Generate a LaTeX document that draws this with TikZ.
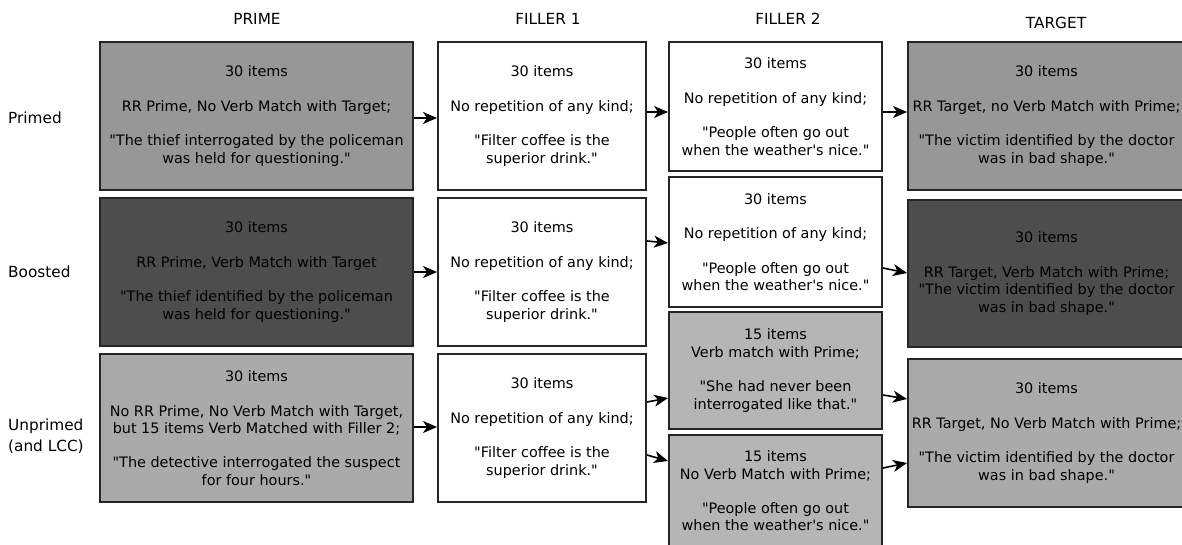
\documentclass[tikz,border=0pt]{standalone}
\usepackage{fontspec}
\newfontfamily\boxfont{DejaVu Sans}
\usetikzlibrary{arrows.meta}

\definecolor{midgray}{HTML}{979797}
\definecolor{darkgray}{HTML}{4D4D4D}
\definecolor{lightgray}{HTML}{AAAAAA}
\definecolor{palegray}{HTML}{B5B5B5}

\begin{document}
\begin{tikzpicture}[x=1pt, y=-1pt, >={Stealth[length=14pt,width=12pt,inset=4pt]},
    cellbox/.style={draw=black!85, line width=2pt, align=center, inner sep=0pt,
        font=\boxfont\fontsize{14.4}{17.3}\selectfont},
    head/.style={font=\boxfont\fontsize{15.3}{18}\selectfont},
    rowlabel/.style={font=\boxfont\fontsize{15.3}{21}\selectfont, anchor=west, align=left, inner sep=0pt},
    flow/.style={->, line width=1.6pt}]
    \useasboundingbox (0,0) rectangle (1182,544);

    % 列标题
    \node[head] (hprime) at (257,19) {PRIME};
    \node[head] (hfilla) at (548,19) {FILLER 1};
    \node[head] (hfillb) at (788,19) {FILLER 2};
    \node[head] (htarget) at (1056,23) {TARGET};

    % 行标题
    \node[rowlabel] (lprimed) at (8,118) {Primed};
    \node[rowlabel] (lboosted) at (8,272) {Boosted};
    \node[rowlabel] (lunprimed) at (8,436) {Unprimed\\(and LCC)};

    % PRIME 列
    \node[cellbox, fill=midgray, minimum width=313pt, minimum height=148pt] (p1) at (256.5,116)
        {30 items\\[17.3pt]RR Prime, No Verb Match with Target;\\[17.3pt]"The thief interrogated by the policeman\\was held for questioning."};
    \node[cellbox, fill=darkgray, minimum width=313pt, minimum height=148pt] (p2) at (256.5,272)
        {30 items\\[17.3pt]RR Prime, Verb Match with Target\\[17.3pt]"The thief identified by the policeman\\was held for questioning."};
    \node[cellbox, fill=lightgray, minimum width=313pt, minimum height=148pt] (p3) at (256.5,428)
        {30 items\\[17.3pt]No RR Prime, No Verb Match with Target,\\but 15 items Verb Matched with Filler 2;\\[17.3pt]"The detective interrogated the suspect\\for four hours."};

    % FILLER 1 列
    \node[cellbox, fill=white, minimum width=208pt, minimum height=148pt] (f1a) at (542,116)
        {30 items\\[17.3pt]No repetition of any kind;\\[17.3pt]"Filter coffee is the\\superior drink."};
    \node[cellbox, fill=white, minimum width=208pt, minimum height=148pt] (f1b) at (542,272)
        {30 items\\[17.3pt]No repetition of any kind;\\[17.3pt]"Filter coffee is the\\superior drink."};
    \node[cellbox, fill=white, minimum width=208pt, minimum height=148pt] (f1c) at (542,428)
        {30 items\\[17.3pt]No repetition of any kind;\\[17.3pt]"Filter coffee is the\\superior drink."};

    % FILLER 2 列
    \node[cellbox, fill=white, minimum width=213pt, minimum height=129pt] (f2a) at (775.5,106.5)
        {30 items\\[17.3pt]No repetition of any kind;\\[17.3pt]"People often go out\\when the weather's nice."};
    \node[cellbox, fill=white, minimum width=213pt, minimum height=130pt] (f2b) at (775.5,242)
        {30 items\\[17.3pt]No repetition of any kind;\\[17.3pt]"People often go out\\when the weather's nice."};
    \node[cellbox, fill=palegray, minimum width=213pt, minimum height=117pt] (f2c) at (775.5,370.5)
        {15 items\\Verb match with Prime;\\[17.3pt]"She had never been\\interrogated like that."};
    \node[cellbox, fill=palegray, minimum width=213pt, minimum height=112pt] (f2d) at (775.5,491)
        {15 items\\No Verb Match with Prime;\\[17.3pt]"People often go out\\when the weather's nice."};

    % TARGET 列
    \node[cellbox, fill=midgray, minimum width=277pt, minimum height=148pt] (t1) at (1046.5,116)
        {30 items\\[17.3pt]RR Target, no Verb Match with Prime;\\[17.3pt]"The victim identified by the doctor\\was in bad shape."};
    \node[cellbox, fill=darkgray, minimum width=277pt, minimum height=147pt] (t2) at (1046.5,273.5)
        {30 items\\[17.3pt]RR Target, Verb Match with Prime;\\"The victim identified by the doctor\\was in bad shape."};
    \node[cellbox, fill=lightgray, minimum width=277pt, minimum height=148pt] (t3) at (1046.5,433)
        {30 items\\[17.3pt]RR Target, No Verb Match with Prime;\\[17.3pt]"The victim identified by the doctor\\was in bad shape."};

    % 箭头: Primed
    \draw[flow] ([yshift=-2pt]p1.east) -- ([yshift=-2pt]f1a.west);
    \draw[flow] ([yshift=4pt]f1a.east) -- ([yshift=-5.5pt]f2a.west);
    \draw[flow] ([yshift=-5.5pt]f2a.east) -- ([yshift=4pt]t1.west);

    % 箭头: Boosted
    \draw[flow] (p2.east) -- (f1b.west);
    \draw[flow] ([yshift=31pt]f1b.east) -- ([yshift=-1pt]f2b.west);
    \draw[flow] ([yshift=-26pt]f2b.east) -- ([yshift=0.5pt]t2.west);

    % 箭头: Unprimed
    \draw[flow] ([yshift=1pt]p3.east) -- ([yshift=1pt]f1c.west);
    \draw[flow] ([yshift=26pt]f1c.east) -- ([yshift=-27.5pt]f2c.west);
    \draw[flow] ([yshift=-27pt]f1c.east) -- ([yshift=30pt]f2d.west);
    \draw[flow] ([yshift=-24.5pt]f2c.east) -- ([yshift=34pt]t3.west);
    \draw[flow] ([yshift=23pt]f2d.east) -- ([yshift=-30pt]t3.west);
\end{tikzpicture}
\end{document}
